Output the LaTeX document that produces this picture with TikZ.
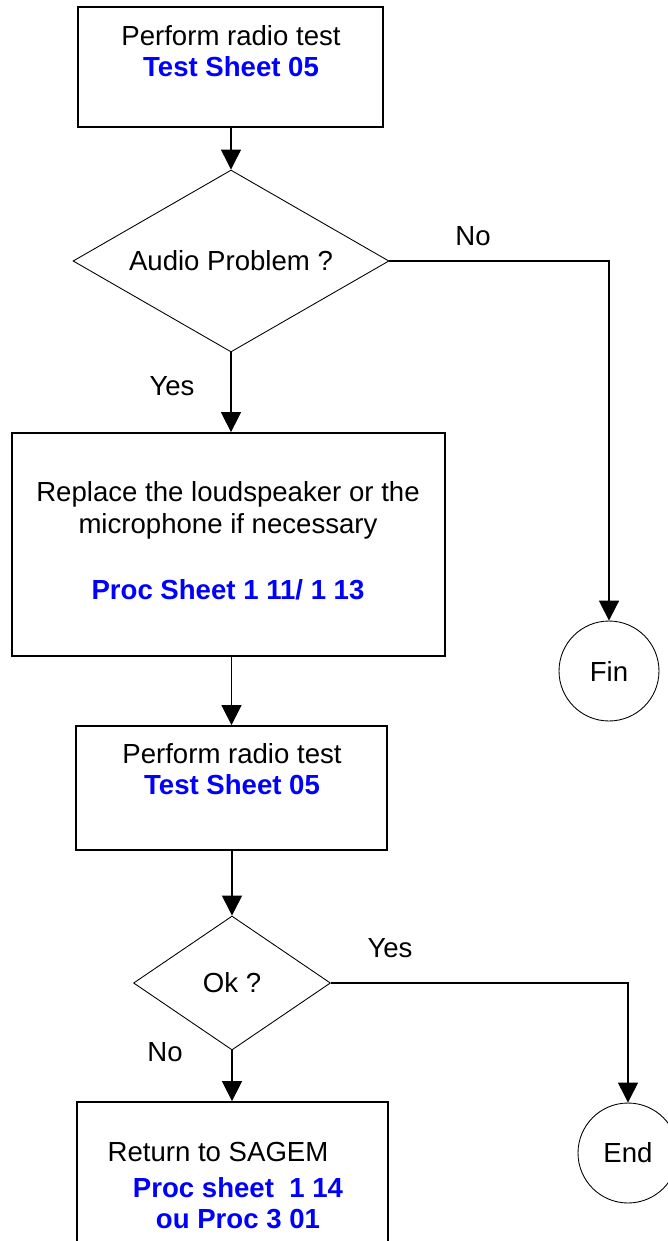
\documentclass[tikz,border=0pt]{standalone}
\usepackage{fontspec}
\setmainfont{Liberation Sans}
\usepackage{xcolor}
\usetikzlibrary{shapes.geometric,arrows.meta}
\definecolor{sheetblue}{RGB}{0,0,255}
\tikzset{
	box/.style={draw,line width=1pt,rectangle,inner sep=0pt},
	decision/.style={draw,line width=0.5pt,diamond,inner sep=0pt,font=\fontsize{15.7}{18}\selectfont},
	terminal/.style={draw,line width=0.5pt,circle,inner sep=0pt,minimum size=2cm,font=\fontsize{15.7}{18}\selectfont},
	flow/.style={line width=0.6pt,-{Triangle[length=0.4cm,width=0.4cm]}},
	txt/.style={align=center,inner sep=0pt,font=\fontsize{15.7}{17.9}\selectfont},
	answer/.style={inner sep=0pt,font=\fontsize{15.7}{18}\selectfont}
}
\newcommand{\sheetref}[1]{\textcolor{sheetblue}{\textbf{#1}}}

\begin{document}
\begin{tikzpicture}[x=0.02cm,y=-0.02cm]
				\clip (0,0) rectangle (668,1241);

				\node[box,minimum width=6.10cm,minimum height=2.40cm] (test1) at (230.5,67) {};
				\node[txt] (test1txt) at (231,51) {Perform radio test\\\sheetref{Test Sheet 05}};

				\node[decision,minimum width=6.32cm,minimum height=3.64cm,aspect=1.74] (audio) at (231,261) {Audio Problem ?};

				\node[box,minimum width=8.66cm,minimum height=4.46cm] (replace) at (228.5,544.5) {};
				\node[txt] (replacetxt) at (228,541) {Replace the loudspeaker or the\\microphone if necessary\\[0.7cm]\sheetref{Proc Sheet 1 11/ 1 13}};

				\node[terminal] (fin) at (609,671) {Fin};

				\node[box,minimum width=6.22cm,minimum height=2.48cm] (test2) at (231.5,788) {};
				\node[txt] (test2txt) at (232,769) {Perform radio test\\\sheetref{Test Sheet 05}};

				\node[decision,minimum width=3.94cm,minimum height=2.68cm,aspect=1.47] (ok) at (232,983) {Ok ?};

				\node[terminal] (end) at (628,1153) {End};

				\node[box,minimum width=6.22cm,minimum height=2.96cm] (back) at (232.5,1176) {};
				\node[txt] (backtxt) at (218,1152) {Return to SAGEM};
				\node[txt] (backref) at (238,1203) {\sheetref{Proc sheet\ \ 1 14}\\\sheetref{ou Proc 3 01}};

				\draw[flow] (test1.south -| audio.north) -- (audio.north);
				\draw[flow,line width=1pt] (audio.east) -| (fin.north);
				\node[answer] (audiono) at (473,236) {No};
				\draw[flow] (audio.south) -- (audio.south |- replace.north);
				\node[answer] (audioyes) at (172,386) {Yes};
				\draw[flow] (test2.north |- replace.south) -- (test2.north);
				\draw[flow] (ok.north |- test2.south) -- (ok.north);
				\draw[flow] (ok.east) -| (end.north);
				\node[answer] (okyes) at (390,948) {Yes};
				\draw[flow] (ok.south) -- (ok.south |- back.north);
				\node[answer] (okno) at (165,1052) {No};
			\end{tikzpicture}
\end{document}
